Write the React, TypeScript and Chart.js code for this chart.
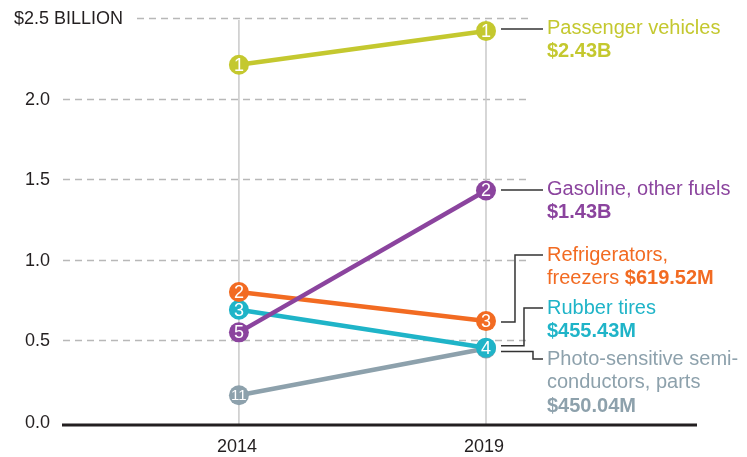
import React, { useEffect, useRef } from "react";
import { Chart, registerables } from "chart.js";

Chart.register(...registerables);

const years = [2014, 2019];
const seriesNames = ["Gasoline, other fuels", "Passenger vehicles", "Refrigerators, freezers", "Rubber tires", "Photo-sensitive semiconductors, parts"];
const gasolineValues = [0.55, 1.43];
const passengerValues = [2.21, 2.42];
const fridgeValues = [0.8, 0.62];
const tiresValues = [0.69, 0.455];
const semiValues = [0.16, 0.45];
const gasolineRanks = ["5", "2"];
const passengerRanks = ["1", "1"];
const fridgeRanks = ["2", "3"];
const tiresRanks = ["3", "4"];
const semiRanks = ["11", "5"];
const seriesColors = ["#8b449e", "#c4c82f", "#f26b22", "#1fb4c8", "#8da1ac"];
const yTicks = [0, 0.5, 1.0, 1.5, 2.0, 2.5];
const yTickLabels = ["0.0", "0.5", "1.0", "1.5", "2.0", "$2.5 BILLION"];
const xTickLabels = ["2014", "2019"];

// label text per series (lines of [text, bold] segments)
const gasolineLabel = [[["Gasoline, other fuels", false]], [["$1.43B", true]]];
const passengerLabel = [[["Passenger vehicles", false]], [["$2.43B", true]]];
const fridgeLabel = [[["Refrigerators,", false]], [["freezers ", false], ["$619.52M", true]]];
const tiresLabel = [[["Rubber tires", false]], [["$455.43M", true]]];
const semiLabel = [[["Photo-sensitive semi-", false]], [["conductors, parts", false]], [["$450.04M", true]]];

const seriesValues = [gasolineValues, passengerValues, fridgeValues, tiresValues, semiValues];
const seriesRanks = [gasolineRanks, passengerRanks, fridgeRanks, tiresRanks, semiRanks];
const seriesLabels = [gasolineLabel, passengerLabel, fridgeLabel, tiresLabel, semiLabel];

const FONT = '"Liberation Sans", Arial, sans-serif';

// layout for label blocks: first line centre (canvas y), connector start offset, elbow x offset
const labelLayout = [
  { textY: 181, connDy: 0, elbow: null },
  { textY: 20, connDy: 0, elbow: null },
  { textY: 247, connDy: 1, elbow: 29 },
  { textY: 300, connDy: -2, elbow: 38 },
  { textY: 351, connDy: 3, elbow: 47 },
];

const decorPlugin = {
  id: "decor",
  beforeDatasetsDraw(chart: any) {
    const { ctx, chartArea, scales } = chart;
    const x = scales.x;
    const y = scales.y;
    const x2019 = x.getPixelForValue(years[1]);
    const gridEnd = x2019 + 44;
    ctx.save();
    // dashed grid
    ctx.strokeStyle = "#b8b8b8";
    ctx.lineWidth = 1.3;
    ctx.setLineDash([7, 5]);
    yTicks.forEach((t, i) => {
      if (t === 0) return;
      const py = Math.round(y.getPixelForValue(t)) + 0.5;
      const start = i === yTicks.length - 1 ? chartArea.left + 75 : chartArea.left + 1;
      ctx.beginPath();
      ctx.moveTo(start, py);
      ctx.lineTo(gridEnd, py);
      ctx.stroke();
    });
    ctx.setLineDash([]);
    // vertical year lines
    const base = y.getPixelForValue(0) + 4;
    ctx.strokeStyle = "#c9c9c9";
    ctx.lineWidth = 1.5;
    years.forEach((yr) => {
      const px = x.getPixelForValue(yr);
      ctx.beginPath();
      ctx.moveTo(px, chartArea.top + 2);
      ctx.lineTo(px, base);
      ctx.stroke();
    });
    // baseline
    ctx.strokeStyle = "#231f20";
    ctx.lineWidth = 3;
    ctx.beginPath();
    ctx.moveTo(chartArea.left, base);
    ctx.lineTo(chartArea.right, base);
    ctx.stroke();
    // y tick labels
    ctx.fillStyle = "#231f20";
    ctx.font = `18px ${FONT}`;
    ctx.textBaseline = "middle";
    yTicks.forEach((t, i) => {
      const py = y.getPixelForValue(t) + (t === 0 ? 2 : 1);
      if (i === yTicks.length - 1) {
        ctx.textAlign = "left";
        ctx.fillText(yTickLabels[i], 6, py);
      } else {
        ctx.textAlign = "right";
        ctx.fillText(yTickLabels[i], chartArea.left - 12, py);
      }
    });
    // x tick labels
    ctx.textAlign = "center";
    years.forEach((yr, i) => {
      ctx.fillText(xTickLabels[i], x.getPixelForValue(yr) - 2, base + 22);
    });
    ctx.restore();
  },
  afterDatasetDraw(chart: any, args: any) {
    const { ctx } = chart;
    const i = args.index;
    const meta = chart.getDatasetMeta(i);
    ctx.save();
    ctx.fillStyle = "#ffffff";
    ctx.textAlign = "center";
    ctx.textBaseline = "middle";
    meta.data.forEach((pt: any, j: number) => {
      const r = seriesRanks[i][j];
      ctx.font = `${r.length > 1 ? 15 : 18}px ${FONT}`;
      ctx.fillText(r, pt.x, pt.y + 1);
    });
    ctx.restore();
  },
  afterDraw(chart: any) {
    const { ctx } = chart;
    ctx.save();
    seriesLabels.forEach((lines, i) => {
      const meta = chart.getDatasetMeta(i);
      const pt = meta.data[1];
      const lay = labelLayout[i];
      const textX = pt.x + 61;
      const connEnd = pt.x + 57;
      const startX = pt.x + 15;
      const startY = pt.y + lay.connDy;
      // connector
      ctx.strokeStyle = "#333333";
      ctx.lineWidth = 1.5;
      ctx.beginPath();
      if (lay.elbow === null) {
        ctx.moveTo(startX, lay.textY + 1);
        ctx.lineTo(connEnd, lay.textY + 1);
      } else {
        const ex = pt.x + lay.elbow;
        ctx.moveTo(startX, startY);
        ctx.lineTo(ex, startY);
        ctx.lineTo(ex, lay.textY);
        ctx.lineTo(connEnd, lay.textY);
      }
      ctx.stroke();
      // text
      ctx.fillStyle = seriesColors[i];
      ctx.textAlign = "left";
      ctx.textBaseline = "middle";
      lines.forEach((segs: any, li: number) => {
        let cx = textX;
        const cy = lay.textY + li * 23.5;
        segs.forEach(([txt, bold]: any) => {
          ctx.font = `${bold ? "bold " : ""}20px ${FONT}`;
          ctx.fillText(txt, cx, cy);
          cx += ctx.measureText(txt).width;
        });
      });
    });
    ctx.restore();
  },
};

export default function App() {
  const ref = useRef<HTMLCanvasElement>(null);
  useEffect(() => {
    document.documentElement.style.overflow = "hidden";
    const canvas = ref.current!;
    const chart = new Chart(canvas, {
      type: "line",
      data: {
        datasets: seriesValues.map((vals, i) => ({
          label: seriesNames[i],
          data: years.map((yr, j) => ({ x: yr, y: vals[j] })),
          borderColor: seriesColors[i],
          backgroundColor: seriesColors[i],
          borderWidth: 4.5,
          pointRadius: 10,
          pointHoverRadius: 10,
          pointBackgroundColor: seriesColors[i],
          pointBorderColor: seriesColors[i],
          pointBorderWidth: 0,
          tension: 0,
        })),
      },
      options: {
        responsive: false,
        animation: false,
        devicePixelRatio: 1,
        events: [],
        layout: { padding: { left: 54, right: 42, top: 8, bottom: 36 } },
        plugins: { legend: { display: false }, tooltip: { enabled: false } },
        scales: {
          x: { type: "linear", min: 2010.42, max: 2023.27, display: false },
          y: { type: "linear", min: 0, max: 2.5, display: false },
        },
      },
      plugins: [decorPlugin],
    });
    return () => chart.destroy();
  }, []);
  return <canvas ref={ref} width={731} height={449} style={{ display: "block" }} />;
}
